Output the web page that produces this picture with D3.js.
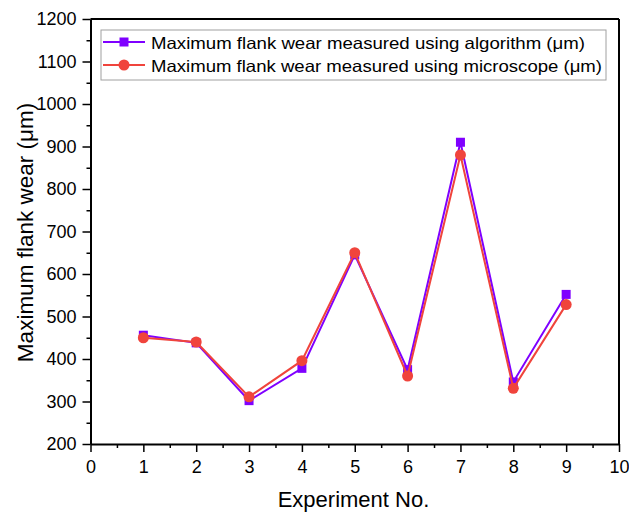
<!DOCTYPE html>
<html>
<head>
<meta charset="utf-8">
<script src="https://cdn.jsdelivr.net/npm/d3@7"></script>
<style>
  body { margin: 0; background: #fff; }
  text { font-family: "Liberation Sans", Arial, sans-serif; fill: #000; }
</style>
<script>
"use strict";

const experiments = [1, 2, 3, 4, 5, 6, 7, 8, 9];
const algorithmWear = [456, 438, 302, 378, 645, 375, 910, 346, 552];
const microscopeWear = [450, 440, 311, 396, 650, 360, 880, 331, 528];
const seriesNames = [
    "Maximum flank wear measured using algorithm (μm)",
    "Maximum flank wear measured using microscope (μm)"
];
const xTicks = d3.range(0, 11);
const yTicks = d3.range(200, 1201, 100);

const margin = { top: 19, right: 10, bottom: 70, left: 90.5 };
const innerWidth = 619 - margin.left;
const innerHeight = 444 - margin.top;
const purple = "#7f00ff";
const red = "#f0443c";

function drawChart() {
    const svg = d3.select("svg#chart");
    const plot = svg.append("g")
        .attr("transform", `translate(${margin.left},${margin.top})`);

    const xScale = d3.scaleLinear().domain([0, 10]).range([0, innerWidth]);
    const yScale = d3.scaleLinear().domain([200, 1200]).range([innerHeight, 0]);

    // minor ticks
    plot.append("g")
        .attr("transform", `translate(0,${innerHeight})`)
        .call(d3.axisBottom(xScale).tickValues(d3.range(0.5, 10, 1)).tickSize(4).tickFormat(""))
        .call(g => g.select(".domain").remove())
        .call(g => g.selectAll("text").remove())
        .selectAll("line").attr("stroke-width", 1.5);
    plot.append("g")
        .call(d3.axisLeft(yScale).tickValues(d3.range(250, 1200, 100)).tickSize(4).tickFormat(""))
        .call(g => g.select(".domain").remove())
        .call(g => g.selectAll("text").remove())
        .selectAll("line").attr("stroke-width", 1.5);

    // major axes
    const xAxis = plot.append("g")
        .attr("transform", `translate(0,${innerHeight})`)
        .call(d3.axisBottom(xScale).tickValues(xTicks).tickFormat(d3.format("d"))
            .tickSize(8).tickSizeOuter(0).tickPadding(8));
    const yAxis = plot.append("g")
        .call(d3.axisLeft(yScale).tickValues(yTicks).tickFormat(d3.format("d"))
            .tickSize(8).tickSizeOuter(0).tickPadding(6));
    [xAxis, yAxis].forEach(a => {
        a.selectAll("text").style("font-size", "18px").attr("fill", "#000");
        a.selectAll("line").attr("stroke-width", 1.5);
        a.select(".domain").attr("stroke-width", 2);
    });

    // frame top / right
    plot.append("line")
        .attr("x1", 0).attr("x2", innerWidth).attr("y1", 0).attr("y2", 0)
        .attr("stroke", "#000").attr("stroke-width", 2);
    plot.append("line")
        .attr("x1", innerWidth).attr("x2", innerWidth).attr("y1", 0).attr("y2", innerHeight)
        .attr("stroke", "#000").attr("stroke-width", 2);

    // axis titles
    svg.append("text")
        .attr("x", 353.5)
        .attr("y", 507)
        .attr("text-anchor", "middle")
        .style("font-size", "22px")
        .text("Experiment No.");
    svg.append("text")
        .attr("transform", `translate(33,${margin.top + innerHeight / 2 + 1}) rotate(-90)`)
        .attr("text-anchor", "middle")
        .style("font-size", "22.5px")
        .text("Maximum flank wear (μm)");

    // series
    const line = d3.line().x(d => xScale(d[0])).y(d => yScale(d[1]));
    const algData = experiments.map((e, i) => [e, algorithmWear[i]]);
    const micData = experiments.map((e, i) => [e, microscopeWear[i]]);

    plot.append("path")
        .datum(algData)
        .attr("fill", "none").attr("stroke", purple).attr("stroke-width", 2)
        .attr("d", line);
    plot.selectAll("rect.alg")
        .data(algData)
        .enter().append("rect")
        .attr("class", "alg")
        .attr("x", d => xScale(d[0]) - 4.5)
        .attr("y", d => yScale(d[1]) - 4.5)
        .attr("width", 9).attr("height", 9)
        .attr("fill", purple);

    plot.append("path")
        .datum(micData)
        .attr("fill", "none").attr("stroke", red).attr("stroke-width", 2)
        .attr("d", line);
    plot.selectAll("circle.mic")
        .data(micData)
        .enter().append("circle")
        .attr("class", "mic")
        .attr("cx", d => xScale(d[0]))
        .attr("cy", d => yScale(d[1]))
        .attr("r", 5.5)
        .attr("fill", red);

    // legend
    const legendWidths = [434, 451];
    const legend = svg.append("g").attr("transform", "translate(101,30)");
    legend.append("rect")
        .attr("width", 505).attr("height", 50)
        .attr("fill", "#fff").attr("stroke", "#a0a0a0").attr("stroke-width", 1);
    seriesNames.forEach((name, i) => {
        const y = 12 + i * 23;
        const color = i === 0 ? purple : red;
        legend.append("line")
            .attr("x1", 2).attr("x2", 44).attr("y1", y).attr("y2", y)
            .attr("stroke", color).attr("stroke-width", 2);
        if (i === 0) {
            legend.append("rect")
                .attr("x", 23 - 4.5).attr("y", y - 4.5)
                .attr("width", 9).attr("height", 9).attr("fill", color);
        } else {
            legend.append("circle")
                .attr("cx", 23).attr("cy", y).attr("r", 5.5).attr("fill", color);
        }
        legend.append("text")
            .attr("x", 50).attr("y", y + 6.5)
            .attr("textLength", legendWidths[i])
            .attr("lengthAdjust", "spacingAndGlyphs")
            .style("font-size", "16.5px")
            .text(name);
    });
}

document.addEventListener("DOMContentLoaded", drawChart);
</script>
</head>
<body>
<svg id="chart" width="629" height="514"></svg>
</body>
</html>
